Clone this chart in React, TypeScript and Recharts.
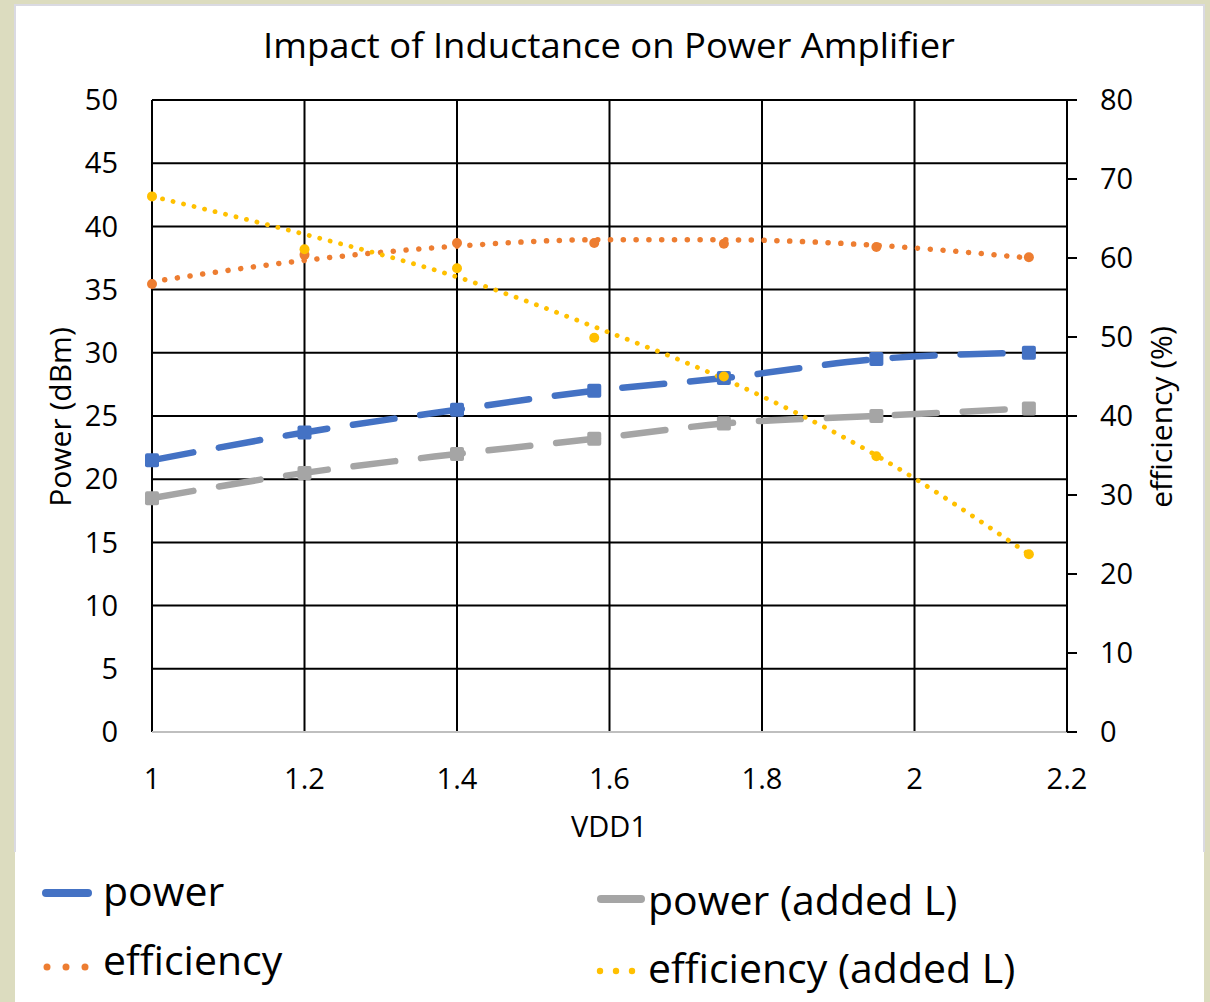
import { ComposedChart, Line, XAxis, YAxis, CartesianGrid } from 'recharts';

// VDD1 sweep points
const vdd = [1, 1.2, 1.4, 1.58, 1.75, 1.95, 2.15];

// Power (dBm), left axis
const power = [21.5, 23.7, 25.5, 27.0, 28.0, 29.5, 30.0];
const powerAddedL = [18.5, 20.5, 22.0, 23.2, 24.4, 25.0, 25.6];

// Efficiency (%), right axis: measured points and the trend line drawn through them
const efficiency = [56.7, 60.4, 61.9, 61.9, 61.8, 61.4, 60.1];
const efficiencyTrend = [57.0, 59.7, 61.5, 62.3, 62.3, 61.6, 60.0];
const efficiencyAddedL = [67.8, 61.1, 58.7, 49.9, 45.0, 34.9, 22.5];
const efficiencyAddedLTrend = [67.8, 63.0, 57.6, 51.3, 44.7, 35.0, 22.5];

const xTicks = [1, 1.2, 1.4, 1.6, 1.8, 2, 2.2];
const powerTicks = [0, 5, 10, 15, 20, 25, 30, 35, 40, 45, 50];
const effTicks = [0, 10, 20, 30, 40, 50, 60, 70, 80];

const BLUE = '#4472C4';
const GREY = '#A5A5A5';
const ORANGE = '#ED7D31';
const YELLOW = '#FFC000';
const FONT = '"Open Sans", sans-serif';

const data = vdd.map((v, i) => ({
  vdd: v,
  power: power[i],
  powerAddedL: powerAddedL[i],
  eff: efficiency[i],
  effTrend: efficiencyTrend[i],
  effL: efficiencyAddedL[i],
  effLTrend: efficiencyAddedLTrend[i],
}));

const square = (color: string) => (props: any) => {
  const { cx, cy, index } = props;
  if (cx == null || cy == null) return <g key={`n-${index}`} />;
  return <rect key={`sq-${color}-${index}`} x={cx - 7} y={cy - 7} width={14} height={14} rx={2} fill={color} />;
};

const tickStyle = { fill: '#000', fontSize: 29, fontFamily: FONT };

export default function App() {
  return (
    <div style={{ position: 'absolute', left: 0, top: 0, width: 1210, height: 1002, background: '#dcdcbf', overflow: 'hidden' }}>
      <div style={{ position: 'absolute', left: 15, top: 4, width: 1189, height: 998, background: '#fff' }} />
      <div
        style={{
          position: 'absolute',
          left: 14,
          top: 4,
          width: 1187,
          height: 846,
          border: '2px solid #dadae2',
          borderBottom: 'none',
        }}
      />
      <div style={{ position: 'absolute', left: 0, top: 0 }}>
        <ComposedChart width={1210} height={850} data={data} margin={{ top: 100, left: 72, right: 63, bottom: 58 }}>
          <CartesianGrid yAxisId="left" stroke="#000" strokeWidth={2} />
          <XAxis
            dataKey="vdd"
            type="number"
            domain={[1, 2.2]}
            ticks={xTicks}
            interval={0}
            tickFormatter={(v) => String(v)}
            axisLine={{ stroke: '#bfbfbf', strokeWidth: 2 }}
            tickLine={false}
            tickMargin={30}
            tick={tickStyle}
            height={60}
          />
          <YAxis
            yAxisId="left"
            domain={[0, 50]}
            ticks={powerTicks}
            interval={0}
            axisLine={false}
            tickLine={false}
            tickMargin={28}
            tick={tickStyle}
            width={80}
          />
          <YAxis
            yAxisId="right"
            orientation="right"
            domain={[0, 80]}
            ticks={effTicks}
            interval={0}
            axisLine={{ stroke: '#000', strokeWidth: 2 }}
            tickLine={{ stroke: '#000', strokeWidth: 2 }}
            tickSize={10}
            tickMargin={23}
            tick={{ ...tickStyle, textAnchor: 'start' }}
            width={80}
          />
          <Line
            yAxisId="left"
            dataKey="power"
            type="monotone"
            stroke={BLUE}
            strokeWidth={6.5}
            strokeDasharray="42 26"
            strokeLinecap="round"
            dot={square(BLUE)}
            activeDot={false}
            isAnimationActive={false}
          />
          <Line
            yAxisId="left"
            dataKey="powerAddedL"
            type="monotone"
            stroke={GREY}
            strokeWidth={6.5}
            strokeDasharray="42 26"
            strokeLinecap="round"
            dot={square(GREY)}
            activeDot={false}
            isAnimationActive={false}
          />
          <Line
            yAxisId="right"
            dataKey="effTrend"
            type="monotone"
            stroke={ORANGE}
            strokeWidth={5.5}
            strokeDasharray="0.1 12.7"
            strokeLinecap="round"
            dot={false}
            activeDot={false}
            isAnimationActive={false}
          />
          <Line
            yAxisId="right"
            dataKey="eff"
            stroke="none"
            dot={{ r: 5, fill: ORANGE, stroke: 'none' }}
            activeDot={false}
            isAnimationActive={false}
          />
          <Line
            yAxisId="right"
            dataKey="effLTrend"
            type="monotone"
            stroke={YELLOW}
            strokeWidth={4.8}
            strokeDasharray="0.1 10.7"
            strokeLinecap="round"
            dot={false}
            activeDot={false}
            isAnimationActive={false}
          />
          <Line
            yAxisId="right"
            dataKey="effL"
            stroke="none"
            dot={{ r: 5, fill: YELLOW, stroke: 'none' }}
            activeDot={false}
            isAnimationActive={false}
          />
        </ComposedChart>
      </div>
      <svg width={1210} height={1002} style={{ position: 'absolute', left: 0, top: 0, pointerEvents: 'none' }} fontFamily={FONT}>
        <text x={609} y={58} textAnchor="middle" fontSize={35} fill="#000" textLength={692} lengthAdjust="spacingAndGlyphs">
          Impact of Inductance on Power Amplifier
        </text>
        <text transform="translate(71,417) rotate(-90)" textAnchor="middle" fontSize={30} fill="#000">
          Power (dBm)
        </text>
        <text transform="translate(1172,417) rotate(-90)" textAnchor="middle" fontSize={30} fill="#000">
          efficiency (%)
        </text>
        <text x={609} y={837} textAnchor="middle" fontSize={29} fill="#000">
          VDD1
        </text>

        <line x1={46} y1={893} x2={88} y2={893} stroke={BLUE} strokeWidth={8} strokeLinecap="round" />
        <text x={103} y={906} fontSize={41} fill="#000">power</text>

        <line x1={601} y1={899} x2={641} y2={899} stroke={GREY} strokeWidth={8} strokeLinecap="round" />
        <text x={648} y={915} fontSize={41} fill="#000">power (added L)</text>

        {[47, 66, 85].map((cx) => (
          <circle key={`o-${cx}`} cx={cx} cy={967} r={3.5} fill={ORANGE} />
        ))}
        <text x={103} y={975} fontSize={41} fill="#000">efficiency</text>

        {[600, 616, 632].map((cx) => (
          <circle key={`y-${cx}`} cx={cx} cy={971} r={3.2} fill={YELLOW} />
        ))}
        <text x={648} y={983} fontSize={41} fill="#000">efficiency (added L)</text>
      </svg>
    </div>
  );
}
